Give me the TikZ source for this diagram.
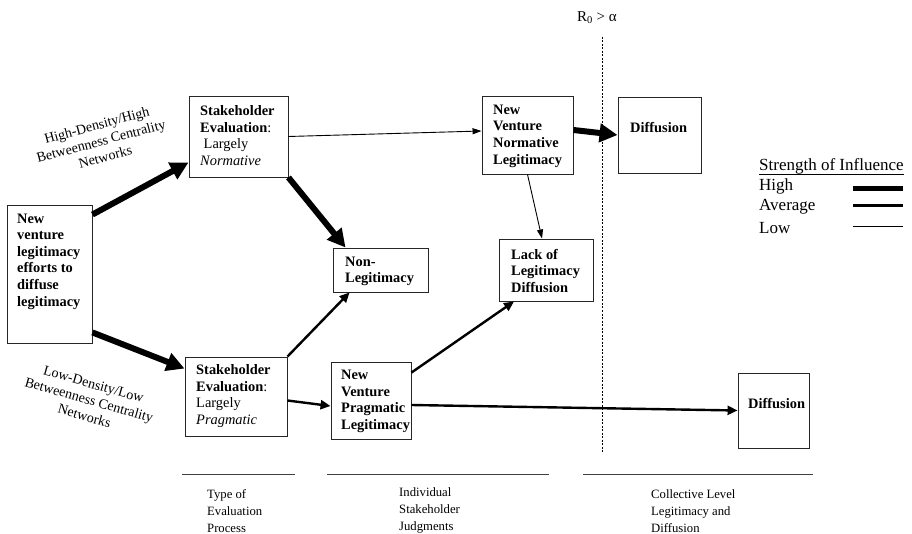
\documentclass[tikz,border=0pt]{standalone}
\usepackage{fontspec}
\setmainfont{Liberation Serif}
\usetikzlibrary{arrows.meta,calc}
\begin{document}
\begin{tikzpicture}[x=1pt,y=-1pt,
  box/.style={draw=black!85, line width=0.9pt, rectangle, inner sep=0pt},
  btxt/.style={anchor=west, inner sep=0pt, align=left, font=\fontsize{14.4}{16.6}\selectfont\bfseries},
  captxt/.style={anchor=west, inner sep=0pt, align=left, font=\fontsize{12.7}{17}\selectfont},
  legtxt/.style={anchor=west, inner sep=0pt, font=\fontsize{17}{21}\selectfont},
  netlab/.style={align=center, inner sep=0pt, font=\fontsize{14}{16.5}\selectfont},
  high/.style={line width=6pt, -{Triangle[length=18pt,width=18pt]}},
  avg/.style={line width=2.4pt, -{Triangle[length=10pt,width=9pt]}},
  low/.style={line width=0.9pt, -{Triangle[length=9pt,width=6pt]}},
  sepline/.style={line width=0.8pt, black!75}]
\useasboundingbox (0,0) rectangle (912,534);

% boxes
\node[box, minimum width=85pt, minimum height=138pt] (nv) at (49.5,274) {};
\node[box, minimum width=99pt, minimum height=81pt] (seN) at (238.5,136.5) {};
\node[box, minimum width=102pt, minimum height=79pt] (seP) at (236,396.5) {};
\node[box, minimum width=95pt, minimum height=44pt] (nonL) at (380.5,270) {};
\node[box, minimum width=91pt, minimum height=78pt] (nvN) at (527.5,135) {};
\node[box, minimum width=94pt, minimum height=62pt] (lack) at (546,270) {};
\node[box, minimum width=83pt, minimum height=76pt] (difT) at (659.5,135) {};
\node[box, minimum width=80pt, minimum height=77pt] (nvP) at (371,400.5) {};
\node[box, minimum width=71pt, minimum height=75pt] (difB) at (773.5,410.5) {};

% box texts
\node[btxt] (tnv) at (17,261.5) {New\\venture\\legitimacy\\efforts to\\diffuse\\legitimacy};
\node[btxt] (tseN) at (200,135.5) {Stakeholder\\Evaluation{\mdseries :}\\{\mdseries\hspace*{3.5pt}Largely}\\{\mdseries\itshape Normative}};
\node[btxt] (tseP) at (196,396) {Stakeholder\\Evaluation{\mdseries :}\\{\mdseries Largely}\\{\mdseries\itshape Pragmatic}};
\node[btxt] (tnonL) at (345,271.5) {Non-\\Legitimacy};
\node[btxt] (tnvN) at (493,136) {New\\Venture\\Normative\\Legitimacy};
\node[btxt] (tlack) at (511,271) {Lack of\\Legitimacy\\Diffusion};
\node[btxt] (tdifT) at (630,128) {Diffusion};
\node[btxt] (tnvP) at (341,401.5) {New\\Venture\\Pragmatic\\Legitimacy};
\node[btxt] (tdifB) at (748,404) {Diffusion};

% network labels
\node[netlab, rotate=15] (hiNet) at (101,141) {High-Density/High\\Betweenness Centrality\\Networks};
\node[netlab, rotate=-16] (loNet) at (89,400) {Low-Density/Low\\Betweenness Centrality\\Networks};

% threshold
\node[inner sep=0pt, font=\fontsize{15}{18}\selectfont] (r0) at (597,18) {R\textsubscript{0} > α};
\coordinate (thTop) at (602,37);
\coordinate (thBot) at (602,452);
\draw[line width=0.7pt, dash pattern=on 2pt off 1.5pt] (thTop) -- (thBot);

% connectors
\draw[high] ($(nv.north east)+(0,10)$) -- ($(seN.south west)+(0,-15)$);
\draw[high] ($(nv.south east)+(0,-11)$) -- ($(seP.north west)+(0,12)$);
\draw[high] (seN.south east) -- ($(nonL.north west)+(13,0)$);
\draw[avg] (seP.north east) -- ($(nonL.south west)+(17,0)$);
\draw[low] (seN.east) -- ($(nvN.west)+(0,-4)$);
\draw[high] ($(nvN.east)+(0,-5)$) -- (difT.west);
\draw[low] (nvN.south) -- ($(lack.north)+(-4,0)$);
\draw[avg] ($(seP.east)+(0,4)$) -- ($(nvP.west)+(0,5.5)$);
\draw[avg] ($(nvP.north east)+(0,11)$) -- ($(lack.south)+(-32,0)$);
\draw[avg] ($(nvP.east)+(0,4.5)$) -- (difB.west);

% section separators and captions
\draw[sepline] (182,474) -- (295,474);
\draw[sepline] (327,474) -- (549,474);
\draw[sepline] (583,474) -- (813,474);
\node[captxt] (c1) at (207,511) {Type of\\Evaluation\\Process};
\node[captxt] (c2) at (399,510) {Individual\\Stakeholder\\Judgments};
\node[captxt] (c3) at (651,511) {Collective Level\\Legitimacy and\\Diffusion};

% legend
\node[inner sep=0pt, anchor=base west, font=\fontsize{17}{21}\selectfont] (legT) at (759,171) {Strength of Influence};
\draw[line width=0.8pt] ($(legT.base west)+(0,3)$) -- ($(legT.base east)+(0,3)$);
\node[legtxt] (lH) at (759,186) {High};
\node[legtxt] (lA) at (759,207) {Average};
\node[legtxt] (lL) at (759,228) {Low};
\draw[line width=5pt] (853,189) -- (903,189);
\draw[line width=3pt] (853,206) -- (903,206);
\draw[line width=0.9pt] (853,226) -- (903,226);
\end{tikzpicture}
\end{document}
